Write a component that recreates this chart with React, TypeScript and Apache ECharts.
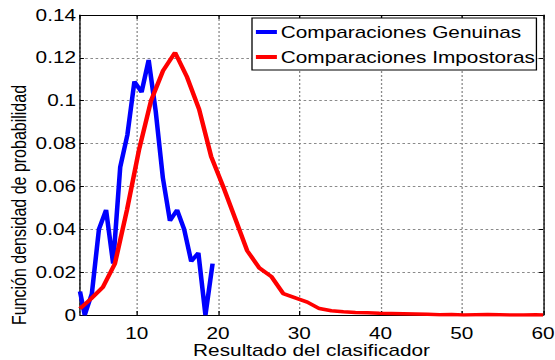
import React, { useEffect, useRef } from "react";
import * as echarts from "echarts";

// Data
const genuineX = [3.0, 3.58, 4.46, 5.33, 6.21, 7.08, 7.95, 8.83, 9.7, 10.58, 11.45, 12.32, 13.2, 14.07, 14.95, 15.82, 16.69, 17.57, 18.44, 19.32];
const genuineY = [0.011, 0.0, 0.01, 0.04, 0.049, 0.024, 0.069, 0.084, 0.109, 0.104, 0.119, 0.095, 0.064, 0.044, 0.049, 0.04, 0.025, 0.029, 0.0, 0.024];

const impostorX = [3.0, 4.34, 5.82, 7.3, 8.78, 10.26, 11.74, 13.22, 14.7, 16.18, 17.66, 19.14, 20.62, 22.1, 23.58, 25.06, 26.54, 28.02, 29.5, 30.98, 32.46, 33.94, 35.42, 36.9, 38.38, 39.86, 41.34, 42.82, 44.3, 45.78, 47.26, 48.74, 50.22, 51.7, 53.18, 54.66, 56.14, 57.62, 59.1, 60.0];
const impostorY = [0.003, 0.0075, 0.013, 0.024, 0.049, 0.077, 0.1, 0.114, 0.1225, 0.111, 0.096, 0.074, 0.06, 0.045, 0.03, 0.022, 0.018, 0.01, 0.008, 0.006, 0.003, 0.002, 0.0015, 0.0012, 0.001, 0.0008, 0.0007, 0.0006, 0.0005, 0.0003, 0.0001, 0.0002, 0.0, 0.0001, 0.0002, 0.0001, 0.0, 0.0, 0.0001, 0.0];

const seriesNames = ["Comparaciones Genuinas", "Comparaciones Impostoras"];
const seriesColors = ["#0000ff", "#ff0000"];
const xAxisTitle = "Resultado del clasificador";
const yAxisTitle = "Función densidad de probabilidad";
const xMin = 3;
const xMax = 60;
const yMin = 0;
const yMax = 0.14;
const yStep = 0.02;

// The reference figure is horizontally stretched; reproduce that stretch.
const W = 555;
const H = 360;
const STRETCH = 1.3;
const innerW = W / STRETCH;

export default function App() {
  const ref = useRef<HTMLDivElement>(null);

  useEffect(() => {
    if (!ref.current) return;
    const chart = echarts.init(ref.current, null, { renderer: "svg" });
    const px = (v: number) => v / STRETCH;
    const font = "'Liberation Sans', Arial, Helvetica, sans-serif";
    const grid = { show: true, lineStyle: { color: "#8a8a8a", type: [2, 2], width: 1 } };
    const axisLine = { show: true, onZero: false, lineStyle: { color: "#000", width: 1 } };

    chart.setOption({
      animation: false,
      textStyle: { fontFamily: font },
      grid: {
        left: px(80),
        right: innerW - px(543),
        top: 15,
        bottom: 45,
        containLabel: false,
        outerBoundsMode: "none",
      },
      legend: {
        data: seriesNames,
        orient: "vertical",
        left: px(252),
        top: 18,
        backgroundColor: "#fff",
        borderColor: "#000",
        borderWidth: 1,
        borderRadius: 0,
        padding: [6, 1, 5, 3],
        itemGap: 9,
        icon: "rect",
        itemWidth: px(21),
        itemHeight: 4,
        lineStyle: { width: 4 },
        textStyle: { fontSize: 16, color: "#000", fontFamily: font, lineHeight: 16, padding: [0, 0, 0, -2] },
      },
      xAxis: [
        {
          type: "value",
          min: xMin,
          max: xMax,
          splitNumber: 6,
          position: "bottom",
          axisLine,
          axisTick: { show: true, inside: true, length: 4, lineStyle: { color: "#000" } },
          axisLabel: { color: "#000", fontSize: 16, margin: 10, showMinLabel: false, fontFamily: font },
          splitLine: grid,
          name: xAxisTitle,
          nameLocation: "middle",
          nameGap: 28,
          nameMoveOverlap: false,
          nameTextStyle: { color: "#000", fontSize: 16, lineHeight: 15, fontFamily: font },
        },
        {
          type: "value",
          min: xMin,
          max: xMax,
          splitNumber: 6,
          position: "top",
          axisLine,
          axisTick: { show: true, inside: true, length: 4, lineStyle: { color: "#000" } },
          axisLabel: { show: false },
          splitLine: { show: false },
        },
      ],
      yAxis: [
        {
          type: "value",
          min: yMin,
          max: yMax,
          interval: yStep,
          position: "left",
          axisLine,
          axisTick: { show: true, inside: true, length: 3, lineStyle: { color: "#000" } },
          axisLabel: {
            color: "#000",
            fontSize: 16,
            margin: 3,
            fontFamily: font,
            formatter: (v: number) => String(+v.toFixed(2)),
          },
          splitLine: grid,
        },
        {
          type: "value",
          min: yMin,
          max: yMax,
          interval: yStep,
          position: "right",
          axisLine,
          axisTick: { show: true, inside: true, length: 3, lineStyle: { color: "#000" } },
          axisLabel: { show: false },
          splitLine: { show: false },
        },
      ],
      graphic: [
        {
          type: "text",
          x: px(19),
          y: 205,
          rotation: Math.PI / 2,
          style: {
            text: yAxisTitle,
            fontSize: 16,
            fontFamily: font,
            fill: "#000",
            textAlign: "center",
            textVerticalAlign: "middle",
          },
        },
      ],
      series: [
        {
          name: seriesNames[0],
          type: "line",
          xAxisIndex: 0,
          yAxisIndex: 0,
          data: genuineX.map((x, i) => [x, genuineY[i]]),
          showSymbol: false,
          symbol: "none",
          color: seriesColors[0],
          lineStyle: { color: seriesColors[0], width: 3.5 },
          clip: true,
        },
        {
          name: seriesNames[1],
          type: "line",
          xAxisIndex: 0,
          yAxisIndex: 0,
          data: impostorX.map((x, i) => [x, impostorY[i]]),
          showSymbol: false,
          symbol: "none",
          color: seriesColors[1],
          lineStyle: { color: seriesColors[1], width: 3.5 },
          clip: true,
        },
      ],
    });
    return () => chart.dispose();
  }, []);

  return (
    <div
      ref={ref}
      style={{
        position: "absolute",
        left: 0,
        top: 0,
        width: innerW,
        height: H,
        transform: `scaleX(${STRETCH})`,
        transformOrigin: "0 0",
        background: "#fff",
      }}
    />
  );
}
